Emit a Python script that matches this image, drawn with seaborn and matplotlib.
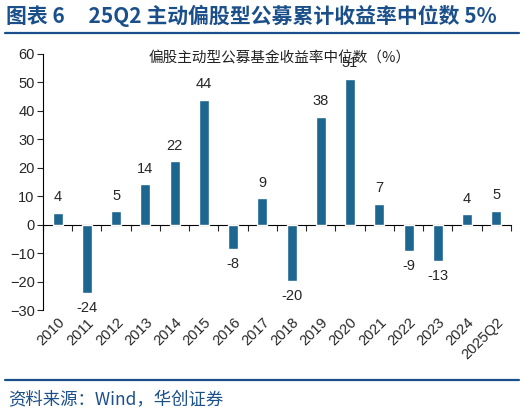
import numpy as np
import pandas as pd
import seaborn as sns
import matplotlib.pyplot as plt
from matplotlib.lines import Line2D

sns.set_style("ticks")
plt.rcParams["font.family"] = ["Liberation Sans", "Noto Sans CJK SC", "DejaVu Sans"]

# Data
years = ["2010", "2011", "2012", "2013", "2014", "2015", "2016", "2017",
         "2018", "2019", "2020", "2021", "2022", "2023", "2024", "2025Q2"]
returns = [4.2, -23.9, 4.8, 14.3, 22.3, 43.9, -8.4, 9.3,
           -19.7, 37.9, 51.3, 7.4, -9.3, -12.8, 3.8, 4.9]
yticks = [-30, -20, -10, 0, 10, 20, 30, 40, 50, 60]

bar_color = "#1c6690"
navy = "#1b4f8a"

df = pd.DataFrame({"year": years, "ret": returns})

fig = plt.figure(figsize=(5.24, 4.15), dpi=100)
ax = fig.add_axes([0.082, 0.253, 0.893, 0.617])

sns.barplot(data=df, x="year", y="ret", color=bar_color, saturation=1,
            width=0.34, ax=ax)

# value labels, rounded like the original
labels = [f"{round(v):d}" for v in returns]
ax.bar_label(ax.containers[0], labels=labels, padding=6, fontsize=10.5)

ax.set_ylim(-30, 60)
ax.set_xlim(-0.5, len(years) - 0.5)
ax.set_yticks(yticks)
ax.set_xlabel("")
ax.set_ylabel("")
ax.tick_params(axis="y", direction="out", length=4, width=0.8, labelsize=10.5, pad=2)
ax.tick_params(axis="x", length=0, labelsize=10.5, pad=4)
for lab in ax.get_xticklabels():
    lab.set_rotation(45)
    lab.set_ha("right")
    lab.set_rotation_mode("anchor")

for s in ["top", "right", "bottom"]:
    ax.spines[s].set_visible(False)
ax.spines["left"].set_color("black")
ax.spines["left"].set_linewidth(0.8)

# zero line with tick marks between categories
bounds = np.arange(len(years) + 1) - 0.5
zero_ax = ax.secondary_xaxis(30 / 90)
zero_ax.xaxis.set_ticks_position("bottom")
zero_ax.set_xticks(bounds, labels=[""] * len(bounds))
zero_ax.tick_params(axis="x", direction="out", length=4, width=0.8)
zero_ax.spines["bottom"].set_linewidth(0.8)
zero_ax.spines["bottom"].set_color("black")

fig.text(0.534, 0.860, "偏股主动型公募基金收益率中位数（%）", ha="center", va="center",
         fontsize=10.5, family=["Noto Sans CJK SC", "DejaVu Sans"], color="#222222")

# header and footer
fig.text(0.012, 0.962, "图表 6     25Q2 主动偏股型公募累计收益率中位数 5%",
         ha="left", va="center", fontsize=15, fontweight="bold", color=navy,
         family=["Noto Sans CJK SC", "DejaVu Sans"])
fig.add_artist(Line2D([0.01, 0.99], [0.920, 0.920], color=navy, lw=1.6))
fig.add_artist(Line2D([0.01, 0.99], [0.084, 0.084], color=navy, lw=1.6))
fig.text(0.015, 0.036, "资料来源：Wind，华创证券", ha="left", va="center",
         fontsize=12.5, style="italic", color=navy,
         family=["Noto Sans CJK SC", "DejaVu Sans"])

fig.savefig("out.png", dpi=100)
